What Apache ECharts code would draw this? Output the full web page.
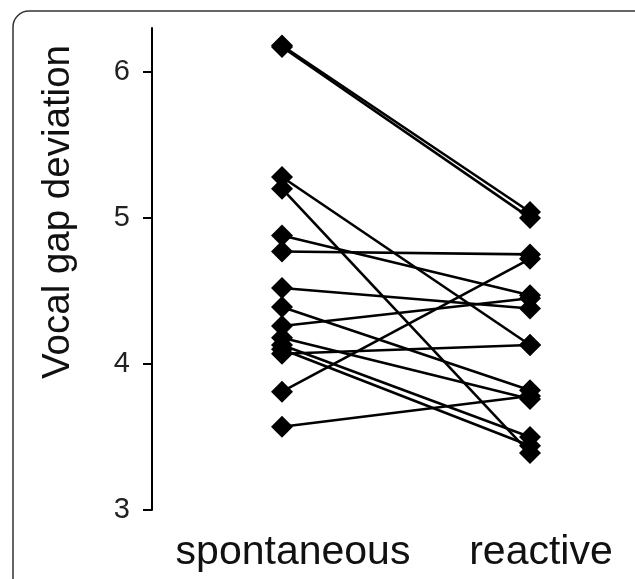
<!DOCTYPE html>
<html lang="en">
<head>
    <meta charset="UTF-8">
    <title>Vocal gap deviation</title>
    <script src="https://cdn.jsdelivr.net/npm/echarts@6.0.0/dist/echarts.min.js"></script>
    <style>
        html, body { margin: 0; padding: 0; background: #fff; }
        #chart { width: 635px; height: 579px; }
    </style>
</head>
<body>
<div id="chart"></div>
<script>
    // conditions on the x axis
    const conditions = ['spontaneous', 'reactive'];
    // one value per subject, same order in both arrays
    const spontaneous = [6.18, 6.17, 5.28, 5.20, 4.88, 4.77, 4.52, 4.39, 4.26, 4.18, 4.13, 4.10, 4.07, 3.81, 3.57];
    const reactive    = [5.04, 5.00, 4.13, 3.39, 4.47, 4.75, 4.38, 3.82, 4.45, 3.76, 3.50, 3.44, 4.13, 4.72, 3.78];
    const yTicks = [3, 4, 5, 6];

    const chart = echarts.init(document.getElementById('chart'));

    const series = spontaneous.map((v, i) => ({
        type: 'line',
        data: [v, reactive[i]],
        symbol: 'diamond',
        symbolSize: 22,
        lineStyle: { color: '#000', width: 2.6 },
        itemStyle: { color: '#000' },
        silent: true,
        animation: false
    }));

    const option = {
        animation: false,
        grid: { left: 282, right: 105, top: 28, bottom: 69 },
        graphic: [{
            type: 'rect',
            shape: { x: 13, y: 11, width: 650, height: 620, r: 16 },
            style: { fill: 'none', stroke: '#333', lineWidth: 1.5 },
            silent: true
        }],
        xAxis: {
            type: 'category',
            data: conditions,
            boundaryGap: false,
            axisLine: { show: false },
            axisTick: { show: false },
            axisLabel: {
                interval: 0,
                hideOverlap: false,
                fontSize: 41,
                fontFamily: 'Liberation Sans, Arial, sans-serif',
                color: '#111',
                margin: 22,
                padding: [0, 0, 0, 22]
            }
        },
        yAxis: {
            type: 'value',
            min: 3,
            max: 6.3,
            offset: 130,
            splitLine: { show: false },
            name: 'Vocal gap deviation',
            nameLocation: 'middle',
            nameRotate: 90,
            nameGap: 74,
            nameTextStyle: {
                fontSize: 38.5,
                fontFamily: 'Liberation Sans, Arial, sans-serif',
                color: '#111',
                padding: [0, 0, 0, 114]
            },
            axisLine: { show: true, lineStyle: { color: '#000', width: 2 } },
            axisTick: { show: true, length: 9, lineStyle: { color: '#000', width: 2 }, customValues: yTicks },
            axisLabel: {
                fontSize: 29,
                fontFamily: 'Liberation Sans, Arial, sans-serif',
                color: '#222',
                margin: 22,
                customValues: yTicks
            }
        },
        series: series
    };

    chart.setOption(option);
</script>
</body>
</html>
